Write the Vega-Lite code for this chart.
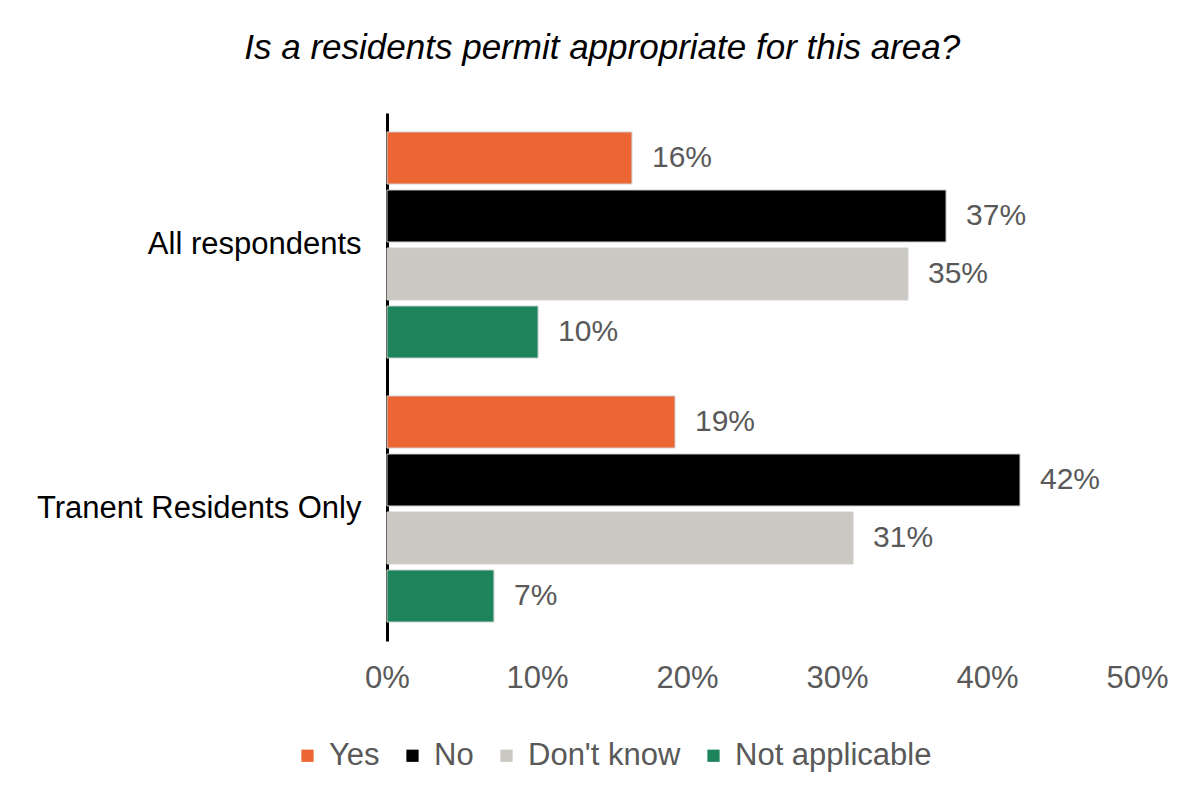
{
  "$schema": "https://vega.github.io/schema/vega-lite/v6.json",
  "autosize": {"type": "none"},
  "padding": {"left": 387, "top": 113, "right": 50, "bottom": 150},
  "width": 750,
  "height": 528,
  "background": "white",
  "title": {
    "text": "Is a residents permit appropriate for this area?",
    "font": "Liberation Sans",
    "fontSize": 35,
    "fontStyle": "italic",
    "fontWeight": "normal",
    "color": "#000000",
    "anchor": "middle",
    "frame": "bounds",
    "offset": 47
  },
  "config": {
    "view": {"stroke": null},
    "font": "Liberation Sans"
  },
  "data": {
    "values": [
      {"group": "All respondents", "response": "Yes", "value": 0.1633},
      {"group": "All respondents", "response": "No", "value": 0.3727},
      {"group": "All respondents", "response": "Don't know", "value": 0.3473},
      {"group": "All respondents", "response": "Not applicable", "value": 0.1007},
      {"group": "Tranent Residents Only", "response": "Yes", "value": 0.192},
      {"group": "Tranent Residents Only", "response": "No", "value": 0.422},
      {"group": "Tranent Residents Only", "response": "Don't know", "value": 0.3107},
      {"group": "Tranent Residents Only", "response": "Not applicable", "value": 0.0713}
    ]
  },
  "encoding": {
    "y": {
      "field": "group",
      "type": "nominal",
      "sort": ["All respondents", "Tranent Residents Only"],
      "scale": {"paddingInner": 0, "paddingOuter": 0},
      "axis": {
        "title": null,
        "domainColor": "#000000",
        "domainWidth": 3,
        "ticks": false,
        "labelFontSize": 31,
        "labelColor": "#000000",
        "labelPadding": 26,
        "labelLimit": 500,
        "labelFont": "Liberation Sans"
      }
    },
    "yOffset": {
      "field": "response",
      "type": "nominal",
      "sort": ["Yes", "No", "Don't know", "Not applicable"],
      "scale": {"paddingInner": 0.103, "paddingOuter": 0.327}
    },
    "x": {
      "field": "value",
      "type": "quantitative",
      "scale": {"domain": [0, 0.5], "nice": false},
      "axis": {
        "title": null,
        "domain": false,
        "ticks": false,
        "grid": false,
        "values": [0, 0.1, 0.2, 0.3, 0.4, 0.5],
        "format": ".0%",
        "labelFlush": false,
        "labelFontSize": 31,
        "labelColor": "#595959",
        "labelPadding": 22,
        "labelFont": "Liberation Sans"
      }
    }
  },
  "layer": [
    {
      "mark": {"type": "bar", "stroke": "#d0d0d0", "strokeWidth": 1},
      "encoding": {
        "color": {
          "field": "response",
          "type": "nominal",
          "sort": ["Yes", "No", "Don't know", "Not applicable"],
          "scale": {
            "domain": ["Yes", "No", "Don't know", "Not applicable"],
            "range": ["#ec6634", "#000000", "#cbc7c1", "#1d845b"]
          },
          "legend": {
            "title": null,
            "orient": "none",
            "direction": "horizontal",
            "legendX": -95,
            "legendY": 627,
            "symbolType": "square",
            "symbolSize": 150,
            "symbolStrokeWidth": 0,
            "labelFontSize": 31,
            "labelColor": "#595959",
            "labelFont": "Liberation Sans",
            "labelLimit": 500,
            "labelOffset": 6,
            "columnPadding": 17
          }
        }
      }
    },
    {
      "mark": {"type": "text", "align": "left", "baseline": "middle", "dx": 20, "fontSize": 30, "color": "#595959", "font": "Liberation Sans"},
      "encoding": {
        "text": {"field": "value", "type": "quantitative", "format": ".0%"}
      }
    }
  ]
}
